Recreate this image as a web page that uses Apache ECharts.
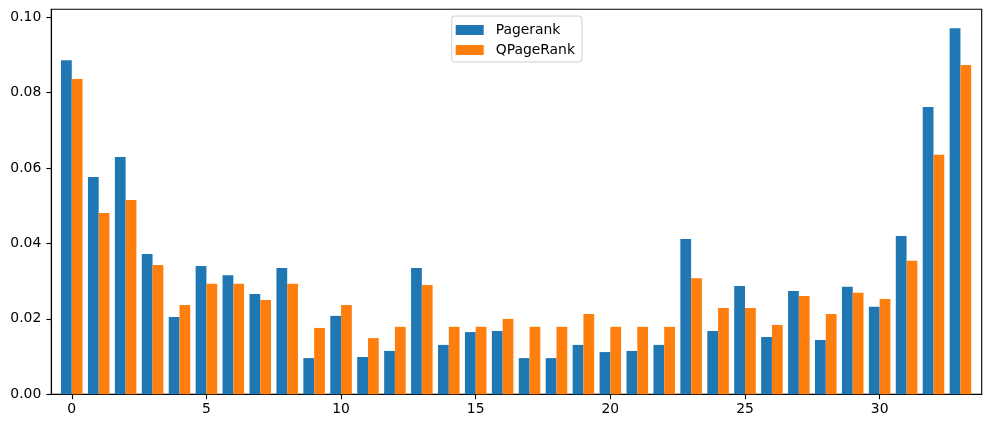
<!DOCTYPE html>
<html>
<head>
<meta charset="utf-8">
<script src="https://cdn.jsdelivr.net/npm/echarts@6/dist/echarts.min.js"></script>
<style>
html,body{margin:0;padding:0;background:#fff;}
#chart{width:990px;height:428px;}
</style>
</head>
<body>
<div id="chart"></div>
<script>
const nodes = [0,1,2,3,4,5,6,7,8,9,10,11,12,13,14,15,16,17,18,19,20,21,22,23,24,25,26,27,28,29,30,31,32,33];
const pagerank = [0.0886,0.0576,0.0629,0.0372,0.0205,0.0340,0.0316,0.0266,0.0335,0.0096,0.0208,0.0099,0.0115,0.0335,0.0131,0.0165,0.0168,0.0096,0.0096,0.0131,0.0112,0.0115,0.0131,0.0412,0.0168,0.0287,0.0152,0.0274,0.0144,0.0285,0.0232,0.0420,0.0762,0.0971];
const qpagerank = [0.0836,0.0481,0.0515,0.0343,0.0237,0.0293,0.0293,0.0250,0.0293,0.0176,0.0237,0.0149,0.0179,0.0290,0.0179,0.0179,0.0200,0.0179,0.0179,0.0213,0.0179,0.0179,0.0179,0.0308,0.0229,0.0229,0.0184,0.0261,0.0213,0.0269,0.0253,0.0354,0.0635,0.0873];
const xTicks = [0,5,10,15,20,25,30];
const yTicks = [0,0.02,0.04,0.06,0.08,0.10];

const font = 'DejaVu Sans';
const chart = echarts.init(document.getElementById('chart'), null, {renderer:'canvas'});
chart.setOption({
  animation:false,
  backgroundColor:'#fff',
  textStyle:{fontFamily:font},
  grid:{left:51.3, right:8.3, top:9.3, bottom:33.7, show:true, borderColor:'#000', borderWidth:1.1, backgroundColor:'transparent', containLabel:false},
  legend:{
    left:451.7, top:16, orient:'vertical',
    itemWidth:28, itemHeight:10, itemGap:6,
    padding:[7,7,5,4],
    borderColor:'#d0d0d0', borderWidth:1, borderRadius:3,
    backgroundColor:'rgba(255,255,255,0.8)',
    textStyle:{fontFamily:font, fontSize:13.9, color:'#000', padding:[0,0,0,7]},
    itemStyle:{borderWidth:0},
    icon:'rect'
  },
  xAxis:{
    type:'value', min:-0.76, max:33.79,
    splitLine:{show:false},
    axisLine:{show:true, onZero:false, lineStyle:{color:'#000', width:1.1}},
    axisTick:{show:true, inside:false, length:4.9, lineStyle:{color:'#000', width:1.1}, customValues:xTicks},
    axisLabel:{fontFamily:font, fontSize:13.9, color:'#000', margin:8, customValues:xTicks, formatter:v=>String(Math.round(v))}
  },
  yAxis:{
    type:'value', min:0, max:0.1021,
    splitLine:{show:false},
    axisLine:{show:true, onZero:false, lineStyle:{color:'#000', width:1.1}},
    axisTick:{show:true, inside:false, length:4.9, lineStyle:{color:'#000', width:1.1}, customValues:yTicks},
    axisLabel:{fontFamily:font, fontSize:13.9, color:'#000', margin:10, customValues:yTicks, formatter:v=>v.toFixed(2)}
  },
  series:[
    {name:'Pagerank', type:'bar', data:nodes.map((n,i)=>[n,pagerank[i]]), itemStyle:{color:'#1f77b4'}, barGap:'0%', barCategoryGap:'20%'},
    {name:'QPageRank', type:'bar', data:nodes.map((n,i)=>[n,qpagerank[i]]), itemStyle:{color:'#ff7f0e'}, barGap:'0%', barCategoryGap:'20%'}
  ]
});
</script>
</body>
</html>
